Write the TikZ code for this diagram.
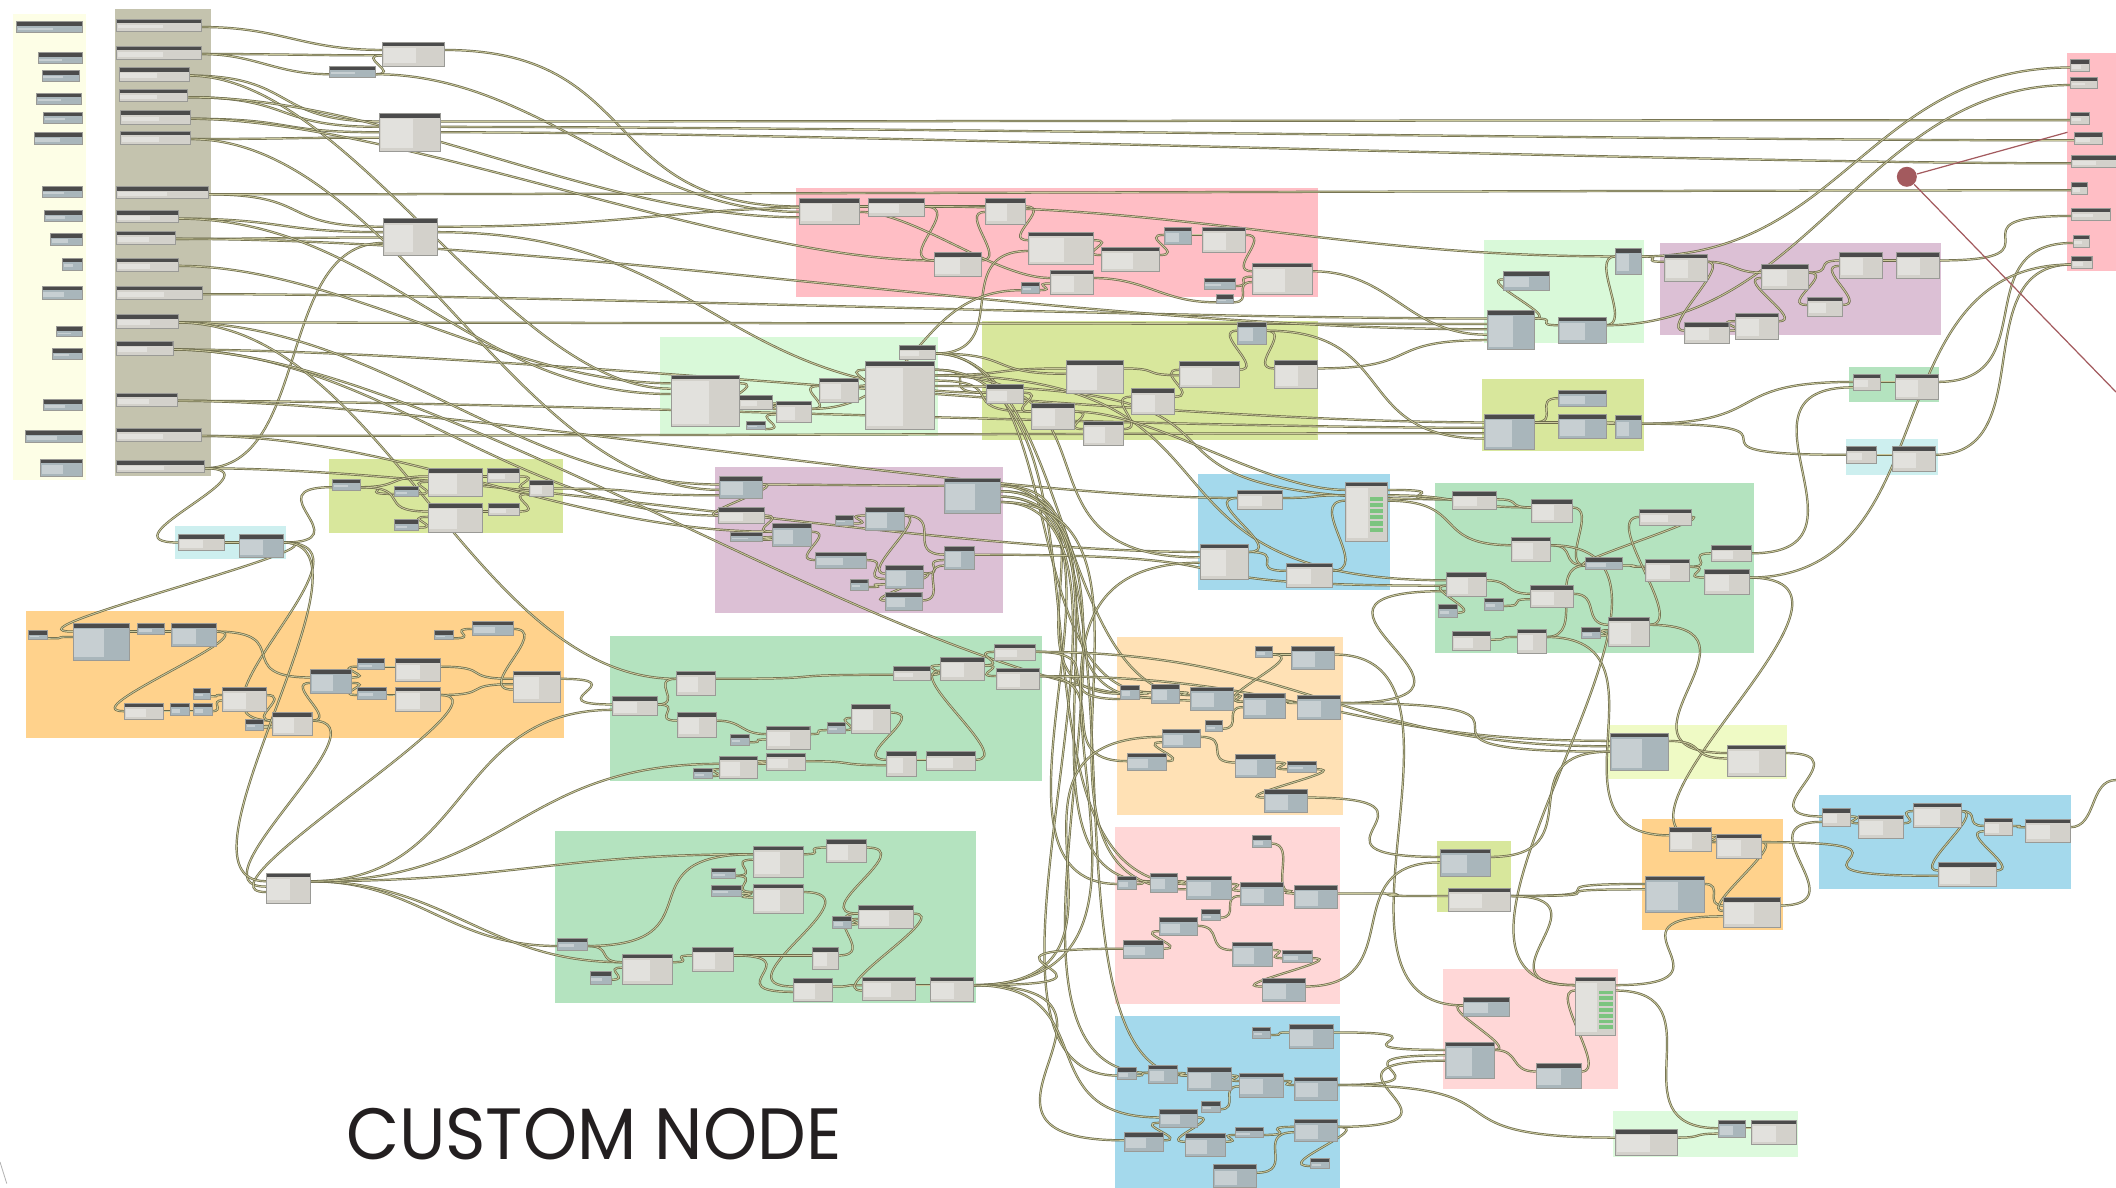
\documentclass[tikz,border=0pt]{standalone}
\usepackage{fontspec}
\usepackage{graphicx}
\usetikzlibrary{calc}
\newfontfamily\titlefont{Poppins}
\definecolor{cPaleY}{HTML}{FDFEE6}
\definecolor{cKhaki}{HTML}{C4C3AE}
\definecolor{cPink}{HTML}{FFBEC5}
\definecolor{cMint}{HTML}{D9F9D9}
\definecolor{cYG}{HTML}{D8E79C}
\definecolor{cTeal}{HTML}{CDEFEF}
\definecolor{cPurple}{HTML}{DCC0D5}
\definecolor{cOrange}{HTML}{FFD28C}
\definecolor{cGreen}{HTML}{B4E3BF}
\definecolor{cBlue}{HTML}{A4D9EC}
\definecolor{cPeach}{HTML}{FFE1B5}
\definecolor{cPinkL}{HTML}{FFD7D7}
\definecolor{cYGL}{HTML}{EFFAC5}
\definecolor{cMintL}{HTML}{DDFADD}
\definecolor{nodegray}{HTML}{D3D1CB}
\definecolor{nodeblue}{HTML}{A9B6BB}
\definecolor{nodehead}{HTML}{4B4B4B}
\definecolor{nodeedge}{HTML}{9A9A96}
\definecolor{wireedge}{HTML}{6B6A4A}
\definecolor{wirefill}{HTML}{CBC99D}
\definecolor{reddot}{HTML}{A35A5E}
\definecolor{titleC}{HTML}{231F20}
\definecolor{watchG}{HTML}{7CC47F}
\pgfdeclarelayer{grp}
\pgfdeclarelayer{wir}
\pgfsetlayers{grp,wir,main}
\tikzset{
  dyn/.style={anchor=north west, inner sep=0pt, outer sep=0pt, draw=nodeedge, line width=0.15pt, fill=#1,
    path picture={
      \fill[white, opacity=0.35] ([xshift=0.6pt,yshift=-2.2pt]path picture bounding box.north west) rectangle ($(path picture bounding box.south west)!0.55!(path picture bounding box.south east)+(0pt,1pt)$);
      \fill[nodehead] (path picture bounding box.north west) rectangle ([yshift=-1.6pt]path picture bounding box.north east);
    }},
  dyn/.default=nodegray,
  wire/.style={draw=wireedge, double=wirefill, double distance=0.32pt, line width=0.26pt},
}
\newcommand{\DN}[6][nodegray]{\node[dyn=#1, minimum width=#5*0.5pt, minimum height=#6*0.5pt] (#2) at (#3,#4) {};}
\newcommand{\CW}[5][40]{\draw[wire] ($(#2.north east)+(0,#3*4+2)$) .. controls +(#1,0) and +(-#1,0) .. ($(#4.north west)+(0,#5*4+2)$);}
\newcommand{\GR}[5]{\fill[#1] (#2,#3) rectangle (#4,#5);}
\begin{document}
\begin{tikzpicture}[x=0.5pt,y=-0.5pt]
\useasboundingbox (0,0) rectangle (1568,880);
\begin{pgfonlayer}{grp}
\fill[white] (0,0) rectangle (1568,880);
\GR{cPaleY}{10}{10}{64}{356}
\GR{cKhaki}{85}{7}{156}{353}
\GR{cPink}{590}{139}{977}{220}
\GR{cMint}{489}{250}{695}{323}
\GR{cYG}{728}{238}{977}{326}
\GR{cYG}{244}{340}{417}{395}
\GR{cTeal}{130}{390}{212}{414}
\GR{cPurple}{530}{346}{743}{454}
\GR{cOrange}{19}{453}{418}{547}
\GR{cGreen}{452}{471}{772}{579}
\GR{cGreen}{411}{616}{723}{743}
\GR{cBlue}{888}{351}{1030}{437}
\GR{cPeach}{828}{472}{995}{604}
\GR{cPinkL}{826}{613}{993}{744}
\GR{cBlue}{826}{753}{993}{880}
\GR{cMint}{1100}{178}{1218}{254}
\GR{cPurple}{1230}{180}{1438}{248}
\GR{cYG}{1098}{281}{1218}{334}
\GR{cGreen}{1370}{272}{1437}{298}
\GR{cTeal}{1368}{325}{1436}{352}
\GR{cGreen}{1063}{358}{1300}{484}
\GR{cPink}{1532}{39}{1568}{201}
\GR{cYGL}{1191}{537}{1324}{577}
\GR{cOrange}{1217}{607}{1321}{689}
\GR{cBlue}{1348}{589}{1535}{659}
\GR{cYG}{1065}{623}{1120}{676}
\GR{cPinkL}{1069}{718}{1199}{807}
\GR{cMintL}{1195}{823}{1332}{857}
\end{pgfonlayer}
% left column
\DN[nodeblue]{Y1}{12}{16}{49}{8}
\DN[nodeblue]{Y2}{28}{39}{33}{8}
\DN[nodeblue]{Y3}{31}{52}{28}{8}
\DN[nodeblue]{Y4}{27}{69}{33}{8}
\DN[nodeblue]{Y5}{32}{83}{29}{8}
\DN[nodeblue]{Y6}{25}{98}{36}{9}
\DN[nodeblue]{Y7}{31}{138}{30}{8}
\DN[nodeblue]{Y8}{33}{156}{28}{8}
\DN[nodeblue]{Y9}{37}{173}{24}{9}
\DN[nodeblue]{Y10}{46}{191}{15}{9}
\DN[nodeblue]{Y11}{31}{212}{30}{10}
\DN[nodeblue]{Y12}{42}{242}{19}{7}
\DN[nodeblue]{Y13}{39}{258}{22}{8}
\DN[nodeblue]{Y14}{32}{296}{29}{8}
\DN[nodeblue]{Y15}{19}{319}{42}{9}
\DN[nodeblue]{Y16}{30}{340}{31}{13}
% khaki inputs
\DN{K1}{86}{14}{63}{9}
\DN{K2}{86}{34}{63}{10}
\DN{K3}{88}{50}{52}{10}
\DN{K4}{88}{66}{51}{9}
\DN{K5}{89}{82}{52}{10}
\DN{K6}{89}{97}{52}{10}
\DN{K7}{86}{138}{68}{9}
\DN{K8}{86}{156}{46}{9}
\DN{K9}{86}{171}{44}{10}
\DN{K10}{86}{191}{46}{10}
\DN{K11}{86}{212}{64}{10}
\DN{K12}{86}{233}{46}{10}
\DN{K13}{86}{253}{42}{10}
\DN{K14}{86}{291}{45}{10}
\DN{K15}{86}{317}{63}{10}
\DN{K16}{86}{341}{65}{9}
% top misc
\DN{A1}{283}{31}{46}{18}
\DN[nodeblue]{A2}{244}{49}{34}{8}
\DN{A3}{281}{84}{45}{28}
\DN{A4}{284}{162}{40}{27}
% pink top
\DN{P1}{592}{147}{45}{19}
\DN{P2}{643}{147}{42}{13}
\DN{P3}{730}{147}{30}{19}
\DN{P4}{762}{172}{48}{24}
\DN{P5}{692}{187}{35}{18}
\DN{P6}{816}{183}{43}{18}
\DN{P7}{778}{200}{32}{18}
\DN[nodeblue]{P8}{757}{209}{13}{8}
\DN[nodeblue]{P9}{863}{168}{20}{13}
\DN{P10}{891}{168}{32}{19}
\DN{P11}{928}{195}{44}{23}
\DN[nodeblue]{P12}{892}{206}{23}{8}
\DN[nodeblue]{P13}{901}{218}{13}{7}
% mint mid
\DN{M1}{497}{278}{51}{38}
\DN{M2}{548}{293}{24}{10}
\DN[nodeblue]{M3}{553}{312}{14}{6}
\DN{M4}{575}{297}{26}{16}
\DN{M5}{607}{280}{29}{18}
\DN{M6}{641}{268}{51}{50}
\DN{M7}{666}{256}{27}{10}
% yellow-green
\DN{G1}{790}{267}{42}{24}
\DN{G2}{731}{285}{27}{14}
\DN{G3}{764}{299}{32}{19}
\DN{G4}{803}{312}{29}{18}
\DN{G5}{838}{288}{32}{19}
\DN{G6}{874}{268}{44}{19}
\DN[nodeblue]{G7}{917}{239}{21}{16}
\DN{G8}{944}{267}{32}{21}
% left small yellow-green
\DN[nodeblue]{L1}{246}{355}{21}{8}
\DN[nodeblue]{L2}{292}{360}{18}{8}
\DN{L3}{317}{347}{40}{21}
\DN[nodeblue]{L4}{292}{385}{18}{8}
\DN{L5}{317}{373}{40}{21}
\DN{L6}{361}{347}{24}{10}
\DN{L7}{362}{373}{23}{9}
\DN{L8}{392}{356}{18}{12}
% teal
\DN{T1}{132}{396}{34}{12}
\DN[nodeblue]{T2}{177}{396}{33}{17}
% orange left
\DN[nodeblue]{O1}{21}{467}{14}{7}
\DN[nodeblue]{O2}{54}{462}{42}{27}
\DN[nodeblue]{O3}{102}{462}{20}{8}
\DN[nodeblue]{O4}{127}{462}{33}{17}
\DN[nodeblue]{O5}{230}{496}{30}{18}
\DN[nodeblue]{O6}{265}{488}{20}{8}
\DN{O7}{293}{488}{33}{17}
\DN[nodeblue]{O8}{265}{509}{21}{9}
\DN{O9}{293}{509}{33}{18}
\DN{O10}{92}{521}{29}{12}
\DN[nodeblue]{O11}{126}{521}{14}{9}
\DN[nodeblue]{O12}{143}{521}{14}{9}
\DN[nodeblue]{O13}{143}{510}{13}{8}
\DN{O14}{165}{509}{32}{18}
\DN[nodeblue]{O15}{182}{533}{13}{8}
\DN{O16}{202}{528}{29}{17}
\DN[nodeblue]{O17}{322}{467}{14}{7}
\DN[nodeblue]{O18}{350}{460}{30}{11}
\DN{O19}{380}{497}{35}{23}
\DN{IF1}{197}{647}{33}{22}
% purple
\DN[nodeblue]{U1}{533}{353}{32}{16}
\DN{U2}{532}{376}{34}{12}
\DN[nodeblue]{U3}{541}{394}{24}{7}
\DN[nodeblue]{U4}{572}{388}{29}{17}
\DN[nodeblue]{U5}{619}{382}{13}{7}
\DN[nodeblue]{U6}{641}{376}{29}{17}
\DN[nodeblue]{U7}{604}{409}{38}{12}
\DN[nodeblue]{U8}{630}{429}{13}{8}
\DN[nodeblue]{U9}{656}{419}{28}{17}
\DN[nodeblue]{U10}{656}{439}{27}{13}
\DN[nodeblue]{U11}{700}{405}{22}{17}
\DN[nodeblue]{U12}{700}{354}{41}{26}
% green mid
\DN{E1}{454}{516}{33}{14}
\DN{E2}{501}{497}{29}{18}
\DN{E3}{502}{528}{29}{18}
\DN[nodeblue]{E4}{541}{544}{14}{8}
\DN{E5}{568}{538}{32}{17}
\DN{E6}{568}{558}{29}{13}
\DN{E7}{533}{560}{28}{17}
\DN[nodeblue]{E8}{514}{569}{14}{8}
\DN[nodeblue]{E9}{613}{535}{13}{8}
\DN{E10}{631}{522}{29}{21}
\DN{E11}{662}{494}{27}{10}
\DN{E12}{697}{487}{32}{17}
\DN{E13}{737}{477}{30}{12}
\DN{E14}{738}{495}{32}{16}
\DN{E15}{657}{557}{22}{18}
\DN{E16}{686}{557}{37}{14}
% green bottom
\DN{B1}{558}{627}{37}{23}
\DN{B2}{612}{622}{30}{17}
\DN[nodeblue]{B3}{527}{643}{18}{8}
\DN[nodeblue]{B4}{527}{656}{22}{8}
\DN{B5}{558}{655}{37}{22}
\DN{B6}{636}{671}{41}{17}
\DN[nodeblue]{B7}{617}{679}{14}{9}
\DN[nodeblue]{B8}{413}{695}{22}{9}
\DN{B9}{461}{707}{37}{22}
\DN{B10}{513}{702}{30}{18}
\DN[nodeblue]{B11}{437}{720}{16}{9}
\DN{B12}{602}{702}{19}{16}
\DN{B13}{588}{725}{29}{17}
\DN{B14}{639}{724}{39}{17}
\DN{B15}{689}{724}{32}{18}
% blue mid
\DN{C1}{917}{363}{33}{14}
\DN{C2}{889}{403}{36}{26}
\DN{C3}{953}{417}{34}{18}
\DN{C4}{997}{357}{31}{44}
% peach
\DN[nodeblue]{H1}{930}{479}{13}{8}
\DN[nodeblue]{H2}{957}{479}{32}{17}
\DN[nodeblue]{H3}{830}{508}{14}{10}
\DN[nodeblue]{H4}{853}{507}{21}{14}
\DN[nodeblue]{H5}{882}{509}{32}{17}
\DN[nodeblue]{H6}{921}{514}{31}{18}
\DN[nodeblue]{H7}{961}{515}{32}{18}
\DN[nodeblue]{H8}{893}{534}{13}{8}
\DN[nodeblue]{H9}{861}{540}{28}{14}
\DN[nodeblue]{H10}{835}{558}{29}{13}
\DN[nodeblue]{H11}{915}{559}{30}{17}
\DN[nodeblue]{H12}{954}{564}{21}{8}
\DN[nodeblue]{H13}{937}{585}{32}{17}
% pink light
\DN[nodeblue]{I1}{928}{619}{14}{9}
\DN[nodeblue]{I2}{828}{649}{14}{10}
\DN[nodeblue]{I3}{852}{647}{20}{14}
\DN[nodeblue]{I4}{879}{649}{33}{17}
\DN[nodeblue]{I5}{919}{654}{32}{17}
\DN[nodeblue]{I6}{959}{656}{32}{17}
\DN[nodeblue]{I7}{890}{674}{14}{8}
\DN[nodeblue]{I8}{859}{680}{28}{13}
\DN[nodeblue]{I9}{832}{697}{30}{13}
\DN[nodeblue]{I10}{913}{698}{30}{18}
\DN[nodeblue]{I11}{950}{704}{22}{9}
\DN[nodeblue]{I12}{935}{725}{32}{17}
% blue bottom
\DN[nodeblue]{J1}{928}{761}{13}{8}
\DN[nodeblue]{J2}{955}{759}{33}{18}
\DN[nodeblue]{J3}{828}{791}{14}{9}
\DN[nodeblue]{J4}{851}{789}{21}{14}
\DN[nodeblue]{J5}{880}{791}{32}{17}
\DN[nodeblue]{J6}{918}{795}{33}{18}
\DN[nodeblue]{J7}{959}{798}{32}{17}
\DN[nodeblue]{J8}{890}{816}{14}{8}
\DN[nodeblue]{J9}{859}{822}{28}{13}
\DN[nodeblue]{J10}{833}{839}{29}{14}
\DN[nodeblue]{J11}{878}{840}{30}{17}
\DN[nodeblue]{J12}{915}{835}{21}{8}
\DN[nodeblue]{J13}{959}{829}{32}{17}
\DN[nodeblue]{J14}{971}{858}{14}{8}
\DN[nodeblue]{J15}{899}{863}{32}{17}
% mint top right
\DN[nodeblue]{R1}{1114}{201}{34}{14}
\DN[nodeblue]{R2}{1102}{230}{35}{29}
\DN[nodeblue]{R3}{1155}{235}{35}{19}
\DN[nodeblue]{R4}{1197}{184}{19}{19}
% purple right
\DN{Q1}{1233}{188}{32}{20}
\DN{Q2}{1305}{196}{35}{18}
\DN{Q3}{1363}{187}{32}{19}
\DN{Q4}{1405}{187}{32}{19}
\DN{Q5}{1339}{220}{26}{14}
\DN{Q6}{1286}{232}{32}{19}
\DN{Q7}{1248}{239}{33}{15}
% yellow-green right small
\DN[nodeblue]{S1}{1100}{307}{37}{26}
\DN[nodeblue]{S2}{1155}{289}{35}{12}
\DN[nodeblue]{S3}{1155}{307}{35}{18}
\DN[nodeblue]{S4}{1197}{308}{19}{17}
\DN{GS1}{1373}{277}{20}{12}
\DN{GS2}{1404}{277}{32}{19}
\DN{TS1}{1368}{331}{22}{12}
\DN{TS2}{1402}{331}{32}{18}
% green right
\DN{N1}{1076}{364}{33}{13}
\DN{N2}{1135}{370}{30}{17}
\DN{N3}{1120}{398}{29}{18}
\DN{N4}{1072}{424}{29}{18}
\DN[nodeblue]{N5}{1066}{448}{14}{9}
\DN[nodeblue]{N6}{1100}{443}{14}{9}
\DN{N7}{1134}{434}{32}{16}
\DN{N8}{1076}{468}{28}{14}
\DN{N9}{1124}{466}{22}{18}
\DN[nodeblue]{N10}{1172}{465}{14}{8}
\DN{N11}{1192}{457}{30}{22}
\DN[nodeblue]{N12}{1175}{413}{27}{9}
\DN{N13}{1219}{414}{33}{17}
\DN{N14}{1215}{377}{38}{12}
\DN{N15}{1268}{404}{30}{12}
\DN{N16}{1263}{422}{33}{18}
% lower right groups
\DN[nodeblue]{V1}{1193}{543}{43}{28}
\DN{V2}{1280}{552}{43}{23}
\DN{W1}{1237}{613}{31}{18}
\DN{W2}{1272}{618}{33}{18}
\DN[nodeblue]{W3}{1219}{649}{44}{27}
\DN{W4}{1277}{665}{42}{22}
\DN{X1}{1350}{599}{21}{13}
\DN{X2}{1377}{604}{33}{17}
\DN{X3}{1418}{595}{35}{18}
\DN{X4}{1470}{606}{21}{13}
\DN{X5}{1501}{607}{33}{17}
\DN{X6}{1436}{639}{43}{18}
\DN[nodeblue]{Z1}{1067}{629}{37}{20}
\DN{Z2}{1073}{658}{46}{17}
\DN{D1}{1167}{724}{30}{43}
\DN[nodeblue]{D2}{1084}{739}{34}{14}
\DN[nodeblue]{D3}{1071}{772}{36}{27}
\DN[nodeblue]{D4}{1138}{788}{34}{18}
\DN{F1}{1197}{837}{46}{19}
\DN[nodeblue]{F2}{1273}{830}{20}{13}
\DN{F3}{1298}{830}{33}{18}
% outputs
\DN{OP1}{1534}{44}{14}{9}
\DN{OP2}{1534}{57}{20}{8}
\DN{OP3}{1534}{83}{14}{9}
\DN{OP4}{1537}{98}{21}{9}
\DN{OP5}{1535}{115}{33}{9}
\DN{OP6}{1535}{135}{12}{9}
\DN{OP7}{1535}{154}{29}{9}
\DN{OP8}{1536}{174}{12}{9}
\DN{OP9}{1535}{190}{15}{9}
% watch lists
\foreach \k in {0,...,5} \fill[watchG] (1015,368+\k*4.6) rectangle (1025,371+\k*4.6);
\foreach \k in {0,...,6} \fill[watchG] (1185,734+\k*4.3) rectangle (1195,736.8+\k*4.3);
\coordinate (xr) at (1568,578);
\begin{pgfonlayer}{wir}
% top
\CW[60]{K1}{1}{A1}{1}
\CW[60]{K2}{1}{A1}{2}
\CW[40]{K2}{1}{A2}{1}
\CW[20]{A2}{1}{A1}{2}
\CW[80]{K3}{1}{A3}{1}
\CW[80]{K4}{1}{A3}{2}
\CW[80]{K5}{1}{A3}{3}
\CW[80]{K6}{1}{A3}{4}
\CW[80]{K7}{1}{A4}{1}
\CW[80]{K8}{1}{A4}{2}
\CW[80]{K9}{1}{A4}{3}
\CW[80]{K16}{1}{A4}{4}
\CW[150]{A1}{1}{P1}{1}
\CW[120]{A2}{1}{P1}{2}
\CW[300]{A3}{1}{OP3}{1}
\CW[300]{A3}{2}{OP4}{1}
\CW[300]{A3}{3}{OP5}{1}
\CW[300]{K7}{1}{OP6}{1}
\CW[150]{A4}{1}{P2}{1}
\CW[200]{A4}{2}{G2}{1}
\CW[250]{K11}{1}{R2}{1}
\CW[250]{K12}{1}{R2}{2}
\CW[250]{K13}{1}{S1}{1}
\CW[250]{K14}{1}{S1}{2}
\CW[250]{K15}{1}{S1}{3}
\CW[120]{K10}{1}{M1}{1}
\CW[150]{K12}{1}{U1}{1}
\CW[150]{K13}{1}{U2}{1}
\CW[200]{K16}{1}{C2}{1}
\CW[200]{K14}{1}{C1}{1}
\CW[120]{K3}{1}{M1}{2}
\CW[150]{K4}{1}{P1}{3}
\CW[150]{K5}{1}{P5}{1}
\CW[150]{K6}{1}{U1}{2}
\CW[150]{K12}{1}{E2}{1}
\CW[150]{K15}{1}{U4}{1}
\CW[300]{K9}{1}{R2}{3}
\CW[150]{K8}{1}{M1}{3}
\CW[200]{K13}{1}{H5}{2}
% pink top
\CW[20]{P1}{1}{P2}{1}
\CW[30]{P2}{1}{P3}{1}
\CW[30]{P2}{1}{P5}{1}
\CW[20]{P5}{1}{P3}{2}
\CW[20]{P3}{1}{P4}{1}
\CW[20]{P4}{1}{P6}{1}
\CW[20]{P6}{1}{P9}{1}
\CW[20]{P9}{1}{P10}{1}
\CW[20]{P10}{1}{P11}{1}
\CW[15]{P12}{1}{P11}{2}
\CW[15]{P13}{1}{P11}{3}
\CW[15]{P8}{1}{P7}{2}
\CW[40]{P7}{1}{P13}{1}
\CW[60]{P11}{1}{R2}{4}
\CW[200]{P2}{1}{R4}{1}
\CW[40]{P1}{2}{P7}{1}
% mint mid
\CW[20]{M1}{1}{M2}{1}
\CW[20]{M2}{1}{M4}{1}
\CW[20]{M3}{1}{M4}{2}
\CW[20]{M4}{1}{M5}{1}
\CW[20]{M5}{1}{M6}{1}
\CW[40]{M6}{1}{G2}{1}
\CW[60]{M6}{2}{G1}{1}
\CW[60]{M7}{1}{G1}{2}
\CW[60]{M6}{3}{G3}{1}
\CW[300]{M6}{4}{N1}{1}
\CW[100]{M7}{1}{H4}{1}
\CW[100]{M7}{1}{H5}{1}
\CW[150]{M6}{1}{I4}{1}
\CW[150]{M6}{2}{C2}{2}
\CW[250]{M6}{2}{N4}{1}
\CW[60]{M7}{1}{P4}{3}
\CW[80]{M4}{1}{P8}{1}
% yellow-green
\CW[20]{G2}{1}{G3}{1}
\CW[20]{G3}{1}{G4}{1}
\CW[20]{G4}{1}{G5}{1}
\CW[20]{G5}{1}{G6}{1}
\CW[20]{G6}{1}{G7}{1}
\CW[20]{G7}{1}{G8}{1}
\CW[30]{G1}{1}{G6}{2}
\CW[80]{G8}{1}{R2}{5}
\CW[100]{G7}{1}{S1}{4}
\CW[60]{G3}{1}{C4}{1}
% left small groups
\CW[30]{L1}{1}{L2}{1}
\CW[30]{L1}{1}{L3}{1}
\CW[20]{L2}{1}{L3}{2}
\CW[20]{L4}{1}{L5}{2}
\CW[40]{L1}{1}{L5}{1}
\CW[20]{L3}{1}{L6}{1}
\CW[20]{L5}{1}{L7}{1}
\CW[20]{L6}{1}{L8}{1}
\CW[20]{L7}{1}{L8}{2}
\CW[80]{L8}{1}{U1}{3}
\CW[60]{T2}{1}{L1}{1}
\CW[60]{K16}{1}{T1}{1}
\CW[20]{T1}{1}{T2}{1}
\CW[60]{T2}{1}{O2}{1}
\CW[80]{T2}{1}{O16}{1}
% orange left
\CW[20]{O1}{1}{O2}{2}
\CW[20]{O2}{1}{O3}{1}
\CW[20]{O3}{1}{O4}{1}
\CW[60]{O4}{1}{O5}{1}
\CW[40]{O4}{1}{O10}{1}
\CW[10]{O10}{1}{O11}{1}
\CW[10]{O11}{1}{O12}{1}
\CW[10]{O13}{1}{O14}{1}
\CW[10]{O12}{1}{O14}{2}
\CW[20]{O14}{1}{O16}{1}
\CW[20]{O15}{1}{O16}{2}
\CW[20]{O16}{1}{O5}{2}
\CW[20]{O5}{1}{O6}{1}
\CW[20]{O5}{2}{O8}{1}
\CW[20]{O6}{1}{O7}{1}
\CW[20]{O8}{1}{O9}{1}
\CW[40]{O7}{1}{O19}{1}
\CW[40]{O9}{1}{O19}{2}
\CW[20]{O17}{1}{O18}{1}
\CW[30]{O18}{1}{O19}{3}
\CW[60]{O19}{1}{E1}{1}
\CW[60]{O16}{1}{IF1}{2}
\CW[60]{O9}{1}{IF1}{3}
\CW[80]{T2}{1}{IF1}{1}
\CW[80]{IF1}{1}{B8}{1}
\CW[100]{IF1}{1}{B9}{1}
\CW[120]{IF1}{1}{E1}{2}
\CW[150]{IF1}{1}{B1}{1}
\CW[150]{IF1}{1}{E7}{1}
% purple
\CW[20]{U1}{1}{U12}{1}
\CW[20]{U2}{1}{U4}{1}
\CW[20]{U3}{1}{U4}{2}
\CW[20]{U4}{1}{U7}{1}
\CW[20]{U5}{1}{U6}{1}
\CW[20]{U6}{1}{U9}{1}
\CW[20]{U7}{1}{U9}{2}
\CW[20]{U8}{1}{U9}{3}
\CW[20]{U9}{1}{U11}{2}
\CW[20]{U10}{1}{U11}{3}
\CW[30]{U6}{1}{U11}{1}
\CW[20]{U9}{1}{U10}{1}
\CW[100]{U12}{1}{H3}{1}
\CW[100]{U12}{2}{H4}{2}
\CW[120]{U12}{3}{I2}{1}
\CW[140]{U12}{4}{J3}{1}
\CW[250]{U11}{1}{N4}{2}
\CW[20]{U1}{1}{U2}{1}
\CW[120]{U12}{1}{J5}{1}
\CW[120]{U12}{2}{I3}{1}
\CW[150]{U12}{3}{J4}{1}
\CW[150]{U12}{4}{I4}{2}
% green mid
\CW[20]{E1}{1}{E2}{1}
\CW[20]{E1}{1}{E3}{1}
\CW[100]{E2}{1}{E11}{1}
\CW[20]{E3}{1}{E5}{1}
\CW[15]{E4}{1}{E5}{2}
\CW[15]{E5}{1}{E9}{1}
\CW[15]{E9}{1}{E10}{2}
\CW[30]{E10}{1}{E15}{1}
\CW[20]{E7}{1}{E6}{1}
\CW[15]{E8}{1}{E7}{2}
\CW[40]{E6}{1}{E15}{2}
\CW[15]{E15}{1}{E16}{1}
\CW[20]{E11}{1}{E12}{1}
\CW[20]{E12}{1}{E13}{1}
\CW[20]{E12}{1}{E14}{1}
\CW[60]{E13}{1}{H3}{2}
\CW[60]{E14}{1}{H10}{1}
\CW[30]{E16}{1}{E12}{2}
\CW[200]{E14}{1}{V1}{1}
\CW[200]{E13}{1}{V1}{2}
% green bottom
\CW[20]{B8}{1}{B9}{1}
\CW[15]{B11}{1}{B9}{2}
\CW[20]{B9}{1}{B10}{1}
\CW[100]{B8}{1}{B1}{1}
\CW[20]{B3}{1}{B1}{2}
\CW[20]{B4}{1}{B5}{2}
\CW[20]{B3}{1}{B5}{1}
\CW[20]{B1}{1}{B2}{1}
\CW[60]{B5}{1}{B13}{1}
\CW[30]{B10}{1}{B12}{1}
\CW[30]{B12}{1}{B6}{1}
\CW[15]{B7}{1}{B6}{2}
\CW[40]{B2}{1}{B6}{1}
\CW[20]{B13}{1}{B14}{1}
\CW[30]{B6}{1}{B14}{2}
\CW[20]{B14}{1}{B15}{1}
\CW[60]{B10}{1}{B13}{2}
\CW[200]{B15}{1}{C2}{3}
\CW[150]{B15}{1}{H9}{1}
\CW[150]{B15}{1}{J10}{1}
\CW[150]{B15}{1}{I9}{1}
\CW[100]{B15}{1}{J9}{1}
% blue mid
\CW[30]{C1}{1}{C4}{2}
\CW[30]{C2}{1}{C3}{1}
\CW[30]{C3}{1}{C4}{3}
\CW[60]{C4}{1}{N1}{1}
\CW[60]{C4}{2}{N2}{1}
\CW[60]{C4}{3}{N3}{1}
\CW[30]{C2}{1}{C1}{1}
% peach
\CW[15]{H1}{1}{H2}{1}
\CW[15]{H3}{1}{H4}{1}
\CW[15]{H4}{1}{H5}{1}
\CW[15]{H5}{1}{H6}{1}
\CW[15]{H6}{1}{H7}{1}
\CW[15]{H8}{1}{H6}{2}
\CW[25]{H9}{1}{H11}{1}
\CW[20]{H10}{1}{H9}{2}
\CW[20]{H11}{1}{H12}{1}
\CW[30]{H12}{1}{H13}{1}
\CW[120]{H2}{1}{D2}{1}
\CW[150]{H7}{1}{N4}{3}
\CW[120]{H13}{1}{Z1}{1}
\CW[200]{H7}{1}{V1}{3}
\CW[30]{H1}{1}{H6}{1}
% pink light
\CW[20]{I1}{1}{I6}{1}
\CW[10]{I2}{1}{I3}{1}
\CW[15]{I3}{1}{I4}{1}
\CW[15]{I4}{1}{I5}{1}
\CW[15]{I5}{1}{I6}{1}
\CW[15]{I7}{1}{I5}{2}
\CW[20]{I8}{1}{I10}{1}
\CW[20]{I9}{1}{I8}{2}
\CW[15]{I10}{1}{I11}{1}
\CW[30]{I11}{1}{I12}{1}
\CW[100]{I6}{1}{Z2}{1}
\CW[80]{I12}{1}{Z1}{2}
% blue bottom
\CW[15]{J1}{1}{J2}{1}
\CW[10]{J3}{1}{J4}{1}
\CW[15]{J4}{1}{J5}{1}
\CW[15]{J5}{1}{J6}{1}
\CW[15]{J6}{1}{J7}{1}
\CW[15]{J8}{1}{J6}{2}
\CW[20]{J9}{1}{J11}{1}
\CW[20]{J10}{1}{J9}{2}
\CW[15]{J11}{1}{J12}{1}
\CW[30]{J13}{1}{J14}{1}
\CW[30]{J15}{1}{J13}{2}
\CW[100]{J7}{1}{D3}{2}
\CW[120]{J13}{1}{D3}{3}
\CW[100]{J2}{1}{D3}{1}
\CW[150]{J7}{1}{F1}{1}
\CW[30]{J12}{1}{J13}{1}
% right top
\CW[20]{R2}{1}{R1}{1}
\CW[20]{R2}{1}{R3}{1}
\CW[20]{R3}{1}{R4}{1}
\CW[20]{R4}{1}{Q1}{1}
\CW[150]{R4}{1}{OP1}{1}
\CW[150]{R3}{1}{OP2}{1}
\CW[20]{Q1}{1}{Q2}{1}
\CW[20]{Q1}{1}{Q7}{1}
\CW[20]{Q7}{1}{Q6}{1}
\CW[20]{Q6}{1}{Q2}{2}
\CW[20]{Q2}{1}{Q3}{1}
\CW[20]{Q2}{1}{Q5}{1}
\CW[20]{Q5}{1}{Q3}{2}
\CW[20]{Q3}{1}{Q4}{1}
\CW[100]{Q4}{1}{OP7}{1}
\CW[20]{S1}{1}{S2}{1}
\CW[20]{S1}{1}{S3}{1}
\CW[15]{S3}{1}{S4}{1}
\CW[100]{S4}{1}{GS1}{1}
\CW[150]{S4}{1}{TS1}{1}
\CW[10]{GS1}{1}{GS2}{1}
\CW[10]{TS1}{1}{TS2}{1}
\CW[80]{GS2}{1}{OP8}{1}
\CW[80]{TS2}{1}{OP9}{1}
% green right
\CW[20]{N1}{1}{N2}{1}
\CW[20]{N2}{1}{N12}{1}
\CW[20]{N3}{1}{N12}{1}
\CW[20]{N4}{1}{N7}{1}
\CW[20]{N5}{1}{N4}{2}
\CW[20]{N6}{1}{N7}{2}
\CW[20]{N7}{1}{N11}{1}
\CW[20]{N8}{1}{N9}{1}
\CW[30]{N9}{1}{N12}{1}
\CW[15]{N10}{1}{N11}{2}
\CW[20]{N12}{1}{N13}{1}
\CW[20]{N13}{1}{N15}{1}
\CW[20]{N13}{1}{N16}{1}
\CW[20]{N14}{1}{N12}{1}
\CW[30]{N11}{1}{N14}{1}
\CW[120]{N16}{1}{W2}{1}
\CW[150]{N16}{1}{OP9}{1}
\CW[100]{N9}{1}{W1}{1}
\CW[100]{N11}{1}{V2}{1}
\CW[150]{N3}{1}{D1}{1}
\CW[100]{N15}{1}{GS1}{2}
% lower right
\CW[30]{V1}{1}{V2}{2}
\CW[60]{V2}{1}{X1}{1}
\CW[15]{W1}{1}{W2}{1}
\CW[15]{W3}{1}{W4}{1}
\CW[20]{W2}{1}{W4}{2}
\CW[60]{W4}{1}{X1}{2}
\CW[150]{W2}{1}{X6}{2}
\CW[15]{X1}{1}{X2}{1}
\CW[15]{X2}{1}{X3}{1}
\CW[15]{X3}{1}{X4}{1}
\CW[20]{X3}{1}{X6}{1}
\CW[20]{X6}{1}{X4}{2}
\CW[15]{X4}{1}{X5}{1}
\draw[wire] ($(X5.north east)+(0,6)$) .. controls +(20,0) and +(-20,0) .. (xr);
\CW[80]{Z1}{1}{V1}{3}
\CW[100]{Z2}{1}{W3}{1}
\CW[100]{Z2}{1}{W3}{2}
\CW[80]{Z2}{1}{D1}{1}
\CW[20]{D3}{1}{D2}{1}
\CW[20]{D3}{1}{D4}{1}
\CW[20]{D4}{1}{D1}{2}
\CW[100]{D1}{1}{W4}{3}
\CW[80]{D1}{2}{F2}{1}
\CW[20]{F1}{1}{F2}{2}
\CW[15]{F2}{1}{F3}{1}
\end{pgfonlayer}
% red marker
\node[circle, fill=reddot, inner sep=0pt, minimum size=7.4pt] (rd) at (1413,131) {};
\coordinate (rd1) at (1532,98);
\coordinate (rd2) at (1568,290.5);
\draw[reddot, line width=0.45pt] (rd) -- (rd1);
\draw[reddot, line width=0.45pt] (rd) -- (rd2);
\draw[gray!60, line width=0.3pt] (0,861) -- (5,877);
% title
\node[anchor=base west, inner sep=0pt, text=titleC] (title) at (256,859) {\resizebox{183.5pt}{19pt}{\titlefont CUSTOM NODE}};
\end{tikzpicture}
\end{document}
